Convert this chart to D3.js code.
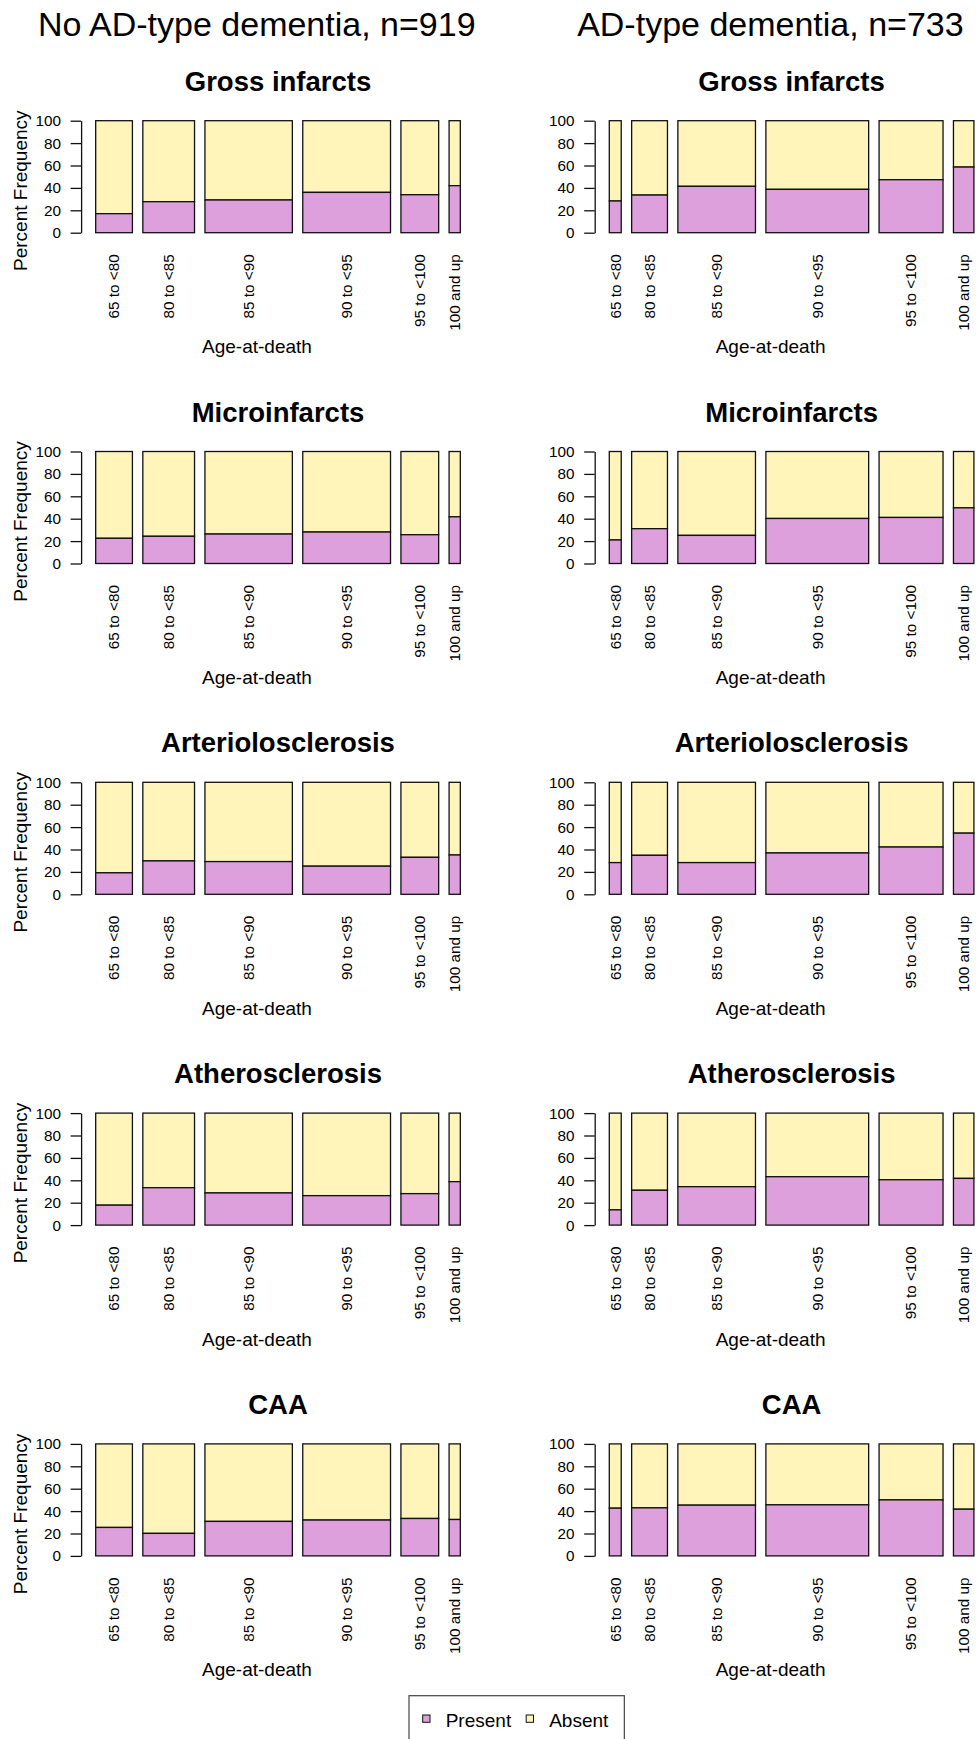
<!DOCTYPE html>
<html>
<head>
<meta charset="utf-8">
<script src="https://cdn.jsdelivr.net/npm/d3@7"></script>
<style>
  body { margin: 0; background: #fff; }
  svg { display: block; font-family: "Liberation Sans", Arial, sans-serif; }
</style>
</head>
<body>
<div id="chart"></div>
<script>
const width = 976;
const height = 1739;

// data
const groupTitles = ["No AD-type dementia, n=919", "AD-type dementia, n=733"];
const ageGroups = ["65 to <80", "80 to <85", "85 to <90", "90 to <95", "95 to <100", "100 and up"];
const countsNoAD = [108, 152, 257, 258, 111, 33];
const countsAD = [28, 84, 182, 241, 150, 48];
const lesions = ["Gross infarcts", "Microinfarcts", "Arteriolosclerosis", "Atherosclerosis", "CAA"];
// percent with lesion present, one row per lesion
const presentNoAD = [
  [17.0, 27.7, 29.2, 36.0, 33.9, 42.0],
  [22.5, 24.3, 26.3, 28.1, 25.7, 41.7],
  [19.2, 29.8, 29.2, 25.1, 33.0, 35.1],
  [17.8, 33.4, 28.7, 26.3, 28.1, 38.8],
  [25.4, 20.1, 30.8, 32.0, 33.4, 32.5]
];
const presentAD = [
  [28.3, 33.6, 41.4, 38.7, 47.3, 58.6],
  [21.0, 31.1, 25.1, 40.2, 41.1, 49.7],
  [28.3, 34.8, 28.3, 36.9, 42.2, 54.6],
  [13.6, 31.1, 34.3, 43.2, 40.5, 41.7],
  [42.6, 42.9, 45.3, 45.6, 50.0, 41.7]
];
const yTicks = [0, 20, 40, 60, 80, 100];
const legendKeys = ["Present", "Absent"];

const colPresent = "#DDA0DD";
const colAbsent = "#FFF4BA";

// layout (original figure was a bit wider than the crop)
const colOffset = 513.6;
const plotLeft = 81.1;
const plotWidth = 393.8;
const firstTop = 120.7;
const rowPitch = 330.8;
const plotH = 112;

const columns = [
  { title: groupTitles[0], counts: countsNoAD, present: presentNoAD },
  { title: groupTitles[1], counts: countsAD, present: presentAD }
];

const svg = d3.select("#chart")
  .append("svg")
  .attr("width", width)
  .attr("height", height);

svg.append("rect")
  .attr("width", width)
  .attr("height", height)
  .attr("fill", "#fff");

// barplot with widths proportional to counts, space = 0.2 * mean width
function barLayout(counts) {
  const gap = 0.2 * d3.mean(counts);
  let cursor = 0;
  return counts.map(function(n) {
    cursor += gap;
    const b = { x0: cursor, x1: cursor + n };
    cursor += n;
    return b;
  });
}

columns.forEach(function(col, c) {
  const ox = c * colOffset;

  svg.append("text")
    .attr("x", ox + 256.8)
    .attr("y", 36)
    .attr("text-anchor", "middle")
    .style("font-size", "34px")
    .text(col.title);

  const bars = barLayout(col.counts);
  const lo = bars[0].x0;
  const hi = bars[bars.length - 1].x1;
  const pad = 0.04 * (hi - lo);
  const x = d3.scaleLinear()
    .domain([lo - pad, hi + pad])
    .range([ox + plotLeft, ox + plotLeft + plotWidth]);

  lesions.forEach(function(lesion, r) {
    const top = firstTop + r * rowPitch;
    const y = d3.scaleLinear().domain([0, 100]).range([top + plotH, top]);
    const g = svg.append("g");

    const rows = bars.map(function(b, i) {
      return { b: b, p: col.present[r][i], label: ageGroups[i] };
    });

    g.selectAll(".absent")
      .data(rows)
      .enter()
      .append("rect")
      .attr("x", d => x(d.b.x0))
      .attr("width", d => x(d.b.x1) - x(d.b.x0))
      .attr("y", y(100))
      .attr("height", d => y(d.p) - y(100))
      .attr("fill", colAbsent)
      .attr("stroke", "#111")
      .attr("stroke-width", 1.3);

    g.selectAll(".present")
      .data(rows)
      .enter()
      .append("rect")
      .attr("x", d => x(d.b.x0))
      .attr("width", d => x(d.b.x1) - x(d.b.x0))
      .attr("y", d => y(d.p))
      .attr("height", d => y(0) - y(d.p))
      .attr("fill", colPresent)
      .attr("stroke", "#111")
      .attr("stroke-width", 1.3);

    const yAxis = g.append("g")
      .attr("transform", "translate(" + (ox + plotLeft) + ",0)")
      .call(d3.axisLeft(y).tickValues(yTicks).tickSize(10.5).tickSizeOuter(0).tickPadding(9.6));
    yAxis.select(".domain").attr("stroke", "#111").attr("stroke-width", 1.3);
    yAxis.selectAll(".tick line").attr("stroke", "#111").attr("stroke-width", 1.3);
    yAxis.selectAll(".tick text")
      .attr("fill", "#000")
      .style("font-size", "15.3px")
      .style("font-family", "'Liberation Sans', Arial, sans-serif");

    g.selectAll(".xlab")
      .data(rows)
      .enter()
      .append("text")
      .attr("transform", d => "translate(" + x((d.b.x0 + d.b.x1) / 2) + "," + (y(0) + 21.5) + ") rotate(-90)")
      .attr("text-anchor", "end")
      .attr("dy", "0.35em")
      .style("font-size", "15.3px")
      .text(d => d.label);

    g.append("text")
      .attr("x", ox + plotLeft + plotWidth / 2)
      .attr("y", top - 30)
      .attr("text-anchor", "middle")
      .style("font-size", "27.5px")
      .style("font-weight", "bold")
      .text(lesion);

    g.append("text")
      .attr("x", ox + 257)
      .attr("y", top + 232.5)
      .attr("text-anchor", "middle")
      .style("font-size", "19px")
      .text("Age-at-death");

    if (c === 0) {
      g.append("text")
        .attr("transform", "translate(26.5," + (top + 70) + ") rotate(-90)")
        .attr("text-anchor", "middle")
        .style("font-size", "19px")
        .text("Percent Frequency");
    }
  });
});

// legend at the bottom, box partly cut off like the original
const legend = svg.append("g");
const legendBox = legend.append("rect")
  .attr("y", 1695.7)
  .attr("height", 50)
  .attr("fill", "#fff")
  .attr("stroke", "#444")
  .attr("stroke-width", 1.2);

let lx = 409 + 13.7;
legendKeys.forEach(function(key, i) {
  legend.append("rect")
    .attr("x", lx)
    .attr("y", 1715)
    .attr("width", 7.3)
    .attr("height", 7.3)
    .attr("fill", i === 0 ? colPresent : colAbsent)
    .attr("stroke", "#111")
    .attr("stroke-width", 1);
  const t = legend.append("text")
    .attr("x", lx + 23)
    .attr("y", 1726.7)
    .style("font-size", "19px")
    .text(key);
  lx += 23 + t.node().getComputedTextLength() + 15;
});
legendBox.attr("x", 409).attr("width", lx + 1 - 409);
</script>
</body>
</html>
